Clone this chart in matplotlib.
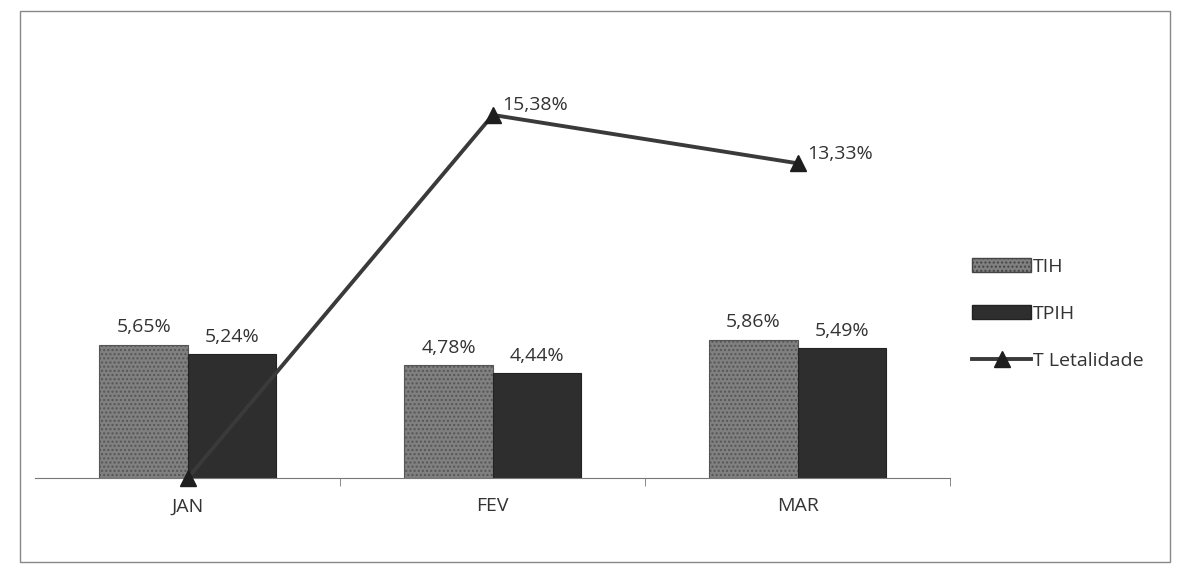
import numpy as np
import matplotlib.pyplot as plt
from matplotlib.patches import Rectangle
from matplotlib.lines import Line2D
from matplotlib.patches import Patch

plt.rcParams['font.family'] = ['Open Sans', 'DejaVu Sans']
plt.rcParams['hatch.color'] = '#5c5c5c'

months = ['JAN', 'FEV', 'MAR']
tih = [5.65, 4.78, 5.86]
tpih = [5.24, 4.44, 5.49]
letalidade = [0.0, 15.38, 13.33]

def fmt(v):
    return f'{v:.2f}'.replace('.', ',') + '%'

fig = plt.figure(figsize=(11.79, 5.71), dpi=100)
fig.patch.set_facecolor('white')
ax = fig.add_axes([0.03, 0.163, 0.776, 0.744])

x = np.arange(len(months))
w = 0.29
ax.bar(x - w / 2, tih, w, color='#808080', edgecolor='#555555', linewidth=0.8, hatch='....', zorder=2)
ax.bar(x + w / 2, tpih, w, color='#2e2e2e', edgecolor='#222222', linewidth=0.8, zorder=2)

ax.plot(x, letalidade, color='#3a3a3a', linewidth=2.8, marker='^', markersize=11,
        markerfacecolor='#1e1e1e', markeredgecolor='#1e1e1e', zorder=3, clip_on=False)

fs = 14
for xi, v in zip(x, tih):
    ax.text(xi - w / 2, v + 0.35, fmt(v), ha='center', va='bottom', fontsize=fs, color='#333333')
for xi, v in zip(x, tpih):
    ax.text(xi + w / 2, v + 0.35, fmt(v), ha='center', va='bottom', fontsize=fs, color='#333333')
for xi, v in zip(x[1:], letalidade[1:]):
    ax.text(xi + 0.03, v + 0.4, fmt(v), ha='left', va='center', fontsize=fs, color='#333333')

ax.set_xlim(-0.5, 2.5)
ax.set_ylim(0, 18)
ax.set_xticks(x)
ax.set_xticklabels(months, fontsize=fs, color='#333333')
ax.set_xticks([0.5, 1.5, 2.5], minor=True)
ax.tick_params(axis='x', which='major', length=0, pad=14)
ax.tick_params(axis='x', which='minor', length=6, color='#777777')
ax.set_yticks([])
for s in ['top', 'right', 'left']:
    ax.spines[s].set_visible(False)
ax.spines['bottom'].set_color('#777777')
ax.set_facecolor('none')

handles = [
    Patch(facecolor='#808080', edgecolor='#444444', hatch='....', label='TIH'),
    Patch(facecolor='#2e2e2e', edgecolor='#222222', label='TPIH'),
    Line2D([0], [0], color='#3a3a3a', linewidth=2.8, marker='^', markersize=11,
           markerfacecolor='#1e1e1e', markeredgecolor='#1e1e1e', label='T Letalidade'),
]
fig.legend(handles=handles, loc='center left', bbox_to_anchor=(0.81, 0.45), frameon=False,
           fontsize=fs, handlelength=3.0, handleheight=0.7, handletextpad=0.1,
           labelspacing=1.5, labelcolor='#333333')

fig.patches.append(Rectangle((0.017, 0.015), 0.975, 0.965, transform=fig.transFigure,
                             fill=False, edgecolor='#888888', linewidth=1.0))

fig.savefig('out.png', dpi=100)
